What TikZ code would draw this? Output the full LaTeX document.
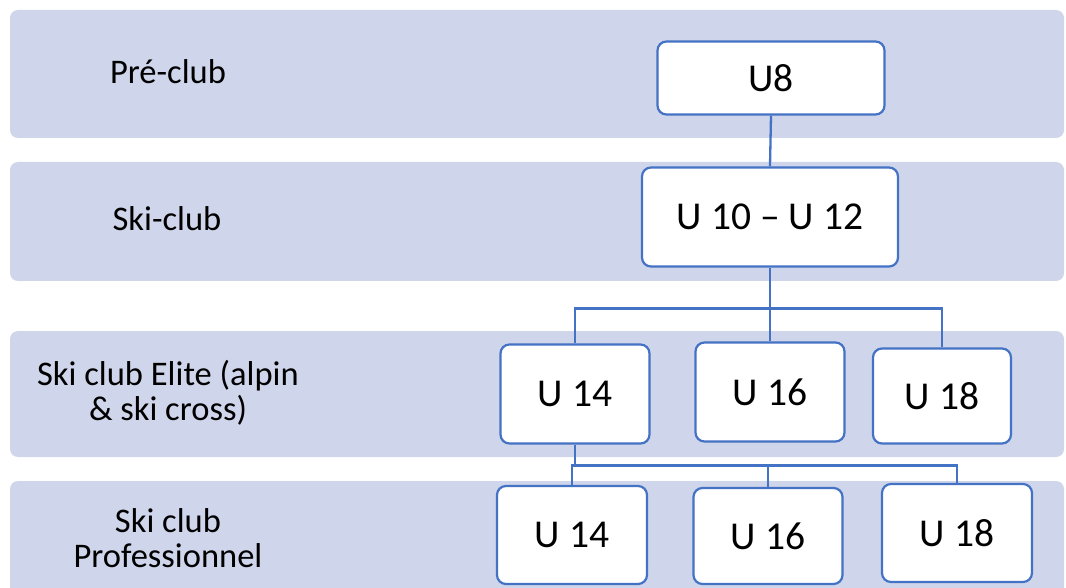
\documentclass[tikz,border=0pt]{standalone}
\usepackage{fontspec}
\setmainfont{Carlito}
\usetikzlibrary{positioning}
\definecolor{bandfill}{HTML}{CFD5EA}
\definecolor{boxline}{HTML}{4472C4}

\begin{document}
\begin{tikzpicture}[x=1pt, y=-1pt,
              band/.style = {fill=bandfill, rounded corners=8pt},
              level/.style = {align=center, font=\fontsize{34.5}{35}\selectfont},
              age/.style = {shape=rectangle, rounded corners=9pt,
                draw=boxline, line width=2.2pt, fill=white,
                font=\fontsize{39.5}{40}\selectfont},
              link/.style = {draw=boxline, line width=2.3pt}]
    \useasboundingbox (0,0) rectangle (1066,588);
    % bands
    \begin{scope}
        \clip (0,0) rectangle (1066,588);
        \fill[band] (10,10) rectangle (1064,138);
        \fill[band] (10,162) rectangle (1064,281);
        \fill[band] (10,331) rectangle (1064,457);
        \fill[band] (10,481) rectangle (1064,600);
    \end{scope}
    % level names
    \node[level] (preclub) at (168,72) {Pré-club};
    \node[level] (skiclub) at (167,219) {Ski-club};
    \node[level] (elite) at (168,393) {Ski club Elite (alpin\\\& ski cross)};
    \node[level] (pro) at (168,538) {Ski club\\Professionnel};
    % age groups
    \node[age, minimum width=227pt, minimum height=73pt] (u8) at (771,78) {U8};
    \node[age, minimum width=256pt, minimum height=99pt] (u10) at (770,217) {U 10 – U 12};
    \node[age, minimum width=149pt, minimum height=99pt] (e14) at (575,394) {U 14};
    \node[age, minimum width=149pt, minimum height=99pt] (e16) at (770,392) {U 16};
    \node[age, minimum width=138pt, minimum height=95pt] (e18) at (942,396) {U 18};
    \node[age, minimum width=150pt, minimum height=98pt] (p14) at (572,535) {U 14};
    \node[age, minimum width=149pt, minimum height=96pt] (p16) at (768,536) {U 16};
    \node[age, minimum width=150pt, minimum height=98pt] (p18) at (957,533) {U 18};
    % connectors
    \draw[link] (u8.south) -- (u10.north);
    \draw[link] (u10.south) -- ++(0,41) coordinate (split1);
    \draw[link] (split1) -| (e14.north);
    \draw[link] (split1) -- (e16.north);
    \draw[link] (split1) -| (e18.north);
    \draw[link] (e14.south) -- ++(0,21) coordinate (split2);
    \draw[link] (split2) -| (p14.north);
    \draw[link] (split2) -| (p16.north);
    \draw[link] (split2) -| (p18.north);
\end{tikzpicture}
\end{document}
